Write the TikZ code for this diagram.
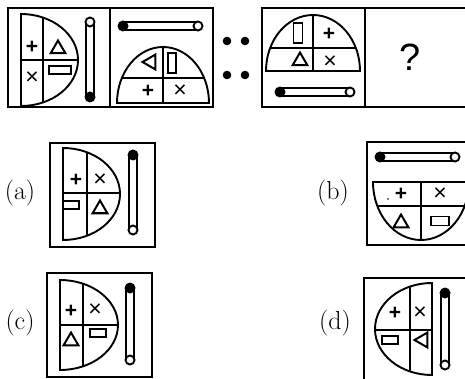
\documentclass[tikz,border=0pt]{standalone}
\usepackage{fontspec}
\setsansfont{Liberation Sans}
\usetikzlibrary{shapes.geometric}

\begin{document}
\begin{tikzpicture}[
  x=1pt,y=-1pt,
  line width=1.9pt,
  frame/.style={draw,line width=1.7pt},
  sym/.style={font=\sffamily\bfseries\fontsize{21}{21}\selectfont,inner sep=0pt},
  xsym/.style={font=\sffamily\fontsize{23}{23}\selectfont,inner sep=0pt},
  tri/.style={draw,regular polygon,regular polygon sides=3,minimum size=17pt,inner sep=0pt,line width=2pt},
  bar/.style={draw,rectangle,minimum width=18pt,minimum height=8pt,inner sep=0pt,line width=1.9pt},
  lbl/.style={font=\fontsize{26}{30}\selectfont,inner sep=0pt}
]
\useasboundingbox (0,0) rectangle (465,379);

% question strip
\draw[frame] (8,8) rectangle (110,107);
\draw[frame] (110,8) rectangle (213,107);
\draw[frame] (262,8) rectangle (365,107);
\draw[frame] (365,8) rectangle (475,107);
\foreach \x in {227,245} \foreach \y in {41,75} \fill (\x,\y) circle (4.3);

% box 1
\begin{scope}
  \clip (21,14) arc[start angle=-90,end angle=90,x radius=57,y radius=46] -- cycle;
  \draw (43,0) -- (43,120) (0,60) -- (90,60);
\end{scope}
\draw (21,14) arc[start angle=-90,end angle=90,x radius=57,y radius=46] -- cycle;
\node[sym] (p1) at (32,47) {+};
\node[tri] (t1) at (58,49) {};
\node[xsym] (x1) at (32,78) {×};
\node[bar,minimum width=22pt] (r1) at (60,70) {};
\draw (86,22) rectangle (94,97);
\fill (90,97) circle (5.5);
\draw[fill=white] (90,22) circle (4.5);

% box 2
\begin{scope}
  \clip (117,103) arc[start angle=180,end angle=360,x radius=46,y radius=56] -- cycle;
  \draw (163,40) -- (163,110) (110,78) -- (213,78);
\end{scope}
\draw (117,103) arc[start angle=180,end angle=360,x radius=46,y radius=56] -- cycle;
\node[tri,shape border rotate=90] (t2) at (151,62) {};
\node[bar,minimum width=8pt,minimum height=20pt] (r2) at (172,63) {};
\node[sym] (p2) at (148,91) {+};
\node[xsym] (x2) at (180,91) {×};
\draw (123,22) rectangle (198,30);
\fill (123,26) circle (5.5);
\draw[fill=white] (198,26) circle (4.5);

% box 3
\begin{scope}
  \clip (266,71) arc[start angle=180,end angle=360,x radius=47,y radius=56] -- cycle;
  \draw (313,10) -- (313,80) (260,48) -- (365,48);
\end{scope}
\draw (266,71) arc[start angle=180,end angle=360,x radius=47,y radius=56] -- cycle;
\node[bar,minimum width=9pt,minimum height=20pt] (r3) at (298,33) {};
\node[sym] (p3) at (329,34) {+};
\node[tri] (t3) at (300,61) {};
\node[xsym] (x3) at (330,62) {×};
\draw (280,88) rectangle (350,96);
\fill (280,92) circle (5.5);
\draw[fill=white] (350,92) circle (4.5);

% box 4
\node[font=\sffamily\fontsize{38}{38}\selectfont] (q) at (410,57) {?};

% option (a)
\node[lbl] (la) at (20,193) {(a)};
\draw[frame] (50,143) rectangle (155,247);
\begin{scope}
  \clip (63,148) arc[start angle=-90,end angle=90,x radius=57,y radius=46] -- cycle;
  \draw (87,140) -- (87,250) (50,193) -- (130,193);
\end{scope}
\draw (63,148) arc[start angle=-90,end angle=90,x radius=57,y radius=46] -- cycle;
\node[sym] (pa) at (76,180) {+};
\node[xsym] (xa) at (100,180) {×};
\node[bar,minimum width=16pt] (ra) at (71,205) {};
\node[tri] (ta) at (100,209) {};
\draw (129,155) rectangle (137,230);
\fill (133,155) circle (5.5);
\draw[fill=white] (133,230) circle (4.5);

% option (b)
\node[lbl] (lb) at (333,193) {(b)};
\draw[frame] (367,142) rectangle (475,245);
\draw (380,153) rectangle (455,161);
\fill (380,157) circle (5.5);
\draw[fill=white] (455,157) circle (4.5);
\begin{scope}
  \clip (373,182) arc[start angle=180,end angle=0,x radius=48,y radius=58] -- cycle;
  \draw (421,175) -- (421,245) (365,206) -- (475,206);
\end{scope}
\draw (373,182) arc[start angle=180,end angle=0,x radius=48,y radius=58] -- cycle;
\fill (388,199) circle (0.9);
\node[sym] (pb) at (401,194) {+};
\node[xsym] (xb) at (440,194) {×};
\node[tri] (tb) at (401,223) {};
\node[bar,minimum width=18pt,minimum height=9pt] (rb) at (440,221) {};

% option (c)
\node[lbl] (lc) at (20,323) {(c)};
\draw[frame] (47,273) rectangle (152,377);
\begin{scope}
  \clip (60,280) arc[start angle=-90,end angle=90,x radius=58,y radius=45] -- cycle;
  \draw (83,270) -- (83,380) (50,325) -- (130,325);
\end{scope}
\draw (60,280) arc[start angle=-90,end angle=90,x radius=58,y radius=45] -- cycle;
\node[sym] (pc) at (71,311) {+};
\node[xsym] (xc) at (95,310) {×};
\node[tri] (tc) at (71,341) {};
\node[bar,minimum width=16pt] (rc) at (98,333) {};
\draw (126,288) rectangle (134,360);
\fill (130,288) circle (5.5);
\draw[fill=white] (130,360) circle (4.5);

% option (d)
\node[lbl] (ld) at (335,323) {(d)};
\draw[frame] (364,278) rectangle (475,390);
\begin{scope}
  \clip (432,283) arc[start angle=270,end angle=90,x radius=57,y radius=46] -- cycle;
  \draw (410,275) -- (410,380) (370,330) -- (440,330);
\end{scope}
\draw (432,283) arc[start angle=270,end angle=90,x radius=57,y radius=46] -- cycle;
\node[sym] (pd) at (395,313) {+};
\node[xsym] (xd) at (420,313) {×};
\node[bar,minimum width=16pt] (rd) at (390,340) {};
\node[tri,shape border rotate=90] (td) at (423,340) {};
\draw (441,293) rectangle (449,365);
\fill (445,293) circle (5.5);
\draw[fill=white] (445,365) circle (4.5);
\end{tikzpicture}
\end{document}
